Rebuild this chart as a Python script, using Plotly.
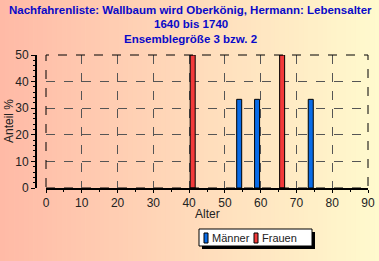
import plotly.graph_objects as go

# Data
alter_maenner = [54, 59, 74]
anteil_maenner = [33.33, 33.33, 33.33]
alter_frauen = [41, 66]
anteil_frauen = [50, 50]
x_ticks = [0, 10, 20, 30, 40, 50, 60, 70, 80, 90]
y_ticks = [0, 10, 20, 30, 40, 50]
title_lines = ["Nachfahrenliste: Wallbaum wird Oberkönig, Hermann: Lebensalter",
               "1640 bis 1740", "Ensemblegröße 3 bzw. 2"]
x_title = "Alter"
y_title = "Anteil %"
series_names = ["Männer", "Frauen"]
series_colors = ["#0A6CE8", "#F23A3A"]

W, H = 379, 261
L, R, T, B = 36, 11, 55, 73
PW, PH = W - L - R, H - T - B

def px2x(X):
    return (X - L) / PW

def px2y(Y):
    return (H - B - Y) / PH

fig = go.Figure()
fig.add_trace(go.Bar(x=alter_maenner, y=anteil_maenner, name=series_names[0], width=1.4,
                     marker=dict(color=series_colors[0], line=dict(color="black", width=1))))
fig.add_trace(go.Bar(x=alter_frauen, y=anteil_frauen, name=series_names[1], width=1.4,
                     marker=dict(color=series_colors[1], line=dict(color="black", width=1))))

shapes = []
# gradient background
c0 = (255, 186, 166)
c1 = (255, 250, 206)
n = 80
for i in range(n):
    t = i / (n - 1)
    col = tuple(int(round(c0[k] + (c1[k] - c0[k]) * t)) for k in range(3))
    x0 = W * i / n
    x1 = W * (i + 1) / n + 0.6
    shapes.append(dict(type="rect", xref="paper", yref="paper", layer="below",
                       x0=px2x(x0), x1=px2x(x1), y0=px2y(H), y1=px2y(0),
                       fillcolor="rgb(%d,%d,%d)" % col, line=dict(width=0)))
# dashed frame
shapes.append(dict(type="rect", xref="x domain", yref="y domain", x0=0, x1=1, y0=0, y1=1,
                   line=dict(color="black", width=1, dash="dash"), layer="above"))
# legend: shadow, box, icons
shapes.append(dict(type="rect", xref="paper", yref="paper",
                   x0=px2x(202), x1=px2x(315), y0=px2y(249), y1=px2y(232),
                   fillcolor="black", line=dict(width=0), layer="above"))
shapes.append(dict(type="rect", xref="paper", yref="paper",
                   x0=px2x(199), x1=px2x(312), y0=px2y(246), y1=px2y(229),
                   fillcolor="white", line=dict(color="black", width=1), layer="above"))
annotations = []
legend_icon_x = [204, 254]
legend_text_x = [210, 260]
for i in range(2):
    shapes.append(dict(type="rect", xref="paper", yref="paper",
                       x0=px2x(legend_icon_x[i]), x1=px2x(legend_icon_x[i] + 4),
                       y0=px2y(243), y1=px2y(233),
                       fillcolor=series_colors[i], line=dict(color="black", width=1), layer="above"))
    annotations.append(dict(text=series_names[i], xref="paper", yref="paper",
                            x=px2x(legend_text_x[i]), y=px2y(238), xanchor="left", yanchor="middle",
                            showarrow=False, font=dict(size=11, color="#222222")))

title_y = [10, 24, 39]
for i, line in enumerate(title_lines):
    annotations.append(dict(text="<b>%s</b>" % line, xref="paper", yref="paper",
                            x=px2x(W / 2 + 1), y=px2y(title_y[i]), xanchor="center", yanchor="middle",
                            showarrow=False,
                            font=dict(family="Liberation Sans, Arial, sans-serif", size=11.5, color="#0A0AC8")))
# axis titles
annotations.append(dict(text=x_title, xref="paper", yref="paper", x=px2x(207), y=px2y(214),
                        xanchor="center", yanchor="middle", showarrow=False,
                        font=dict(size=12, color="#222222")))
annotations.append(dict(text=y_title, xref="paper", yref="paper", x=px2x(9), y=px2y(121),
                        xanchor="center", yanchor="middle", showarrow=False, textangle=-90,
                        font=dict(size=12, color="#222222")))

fig.update_layout(
    width=W, height=H,
    margin=dict(l=L, r=R, t=T, b=B, autoexpand=False),
    paper_bgcolor="rgb(255,220,190)",
    plot_bgcolor="rgba(0,0,0,0)",
    barmode="overlay",
    showlegend=False,
    font=dict(family="Liberation Sans, Arial, sans-serif", size=12, color="black"),
    xaxis=dict(
        domain=[px2x(46), 1], automargin=False,
        range=[0, 90], tickvals=x_ticks, ticks="outside", ticklen=3, tickcolor="black",
        showline=True, linecolor="black", linewidth=2,
        showgrid=True, gridcolor="#555555", griddash="dash", gridwidth=1,
        zeroline=False,
        tickfont=dict(size=12, color="#222222"),
        minor=dict(ticks="outside", ticklen=2, tickcolor="black", dtick=5, showgrid=False),
    ),
    yaxis=dict(
        automargin=False,
        range=[0, 50], tickvals=y_ticks, ticks="outside", ticklen=4, tickcolor="black",
        showline=True, linecolor="black", linewidth=2,
        anchor="free", position=0,
        showgrid=True, gridcolor="#555555", griddash="dash", gridwidth=1,
        zeroline=False,
        tickfont=dict(size=12, color="#222222"),
        minor=dict(ticks="outside", ticklen=2, tickcolor="black", dtick=2),
    ),
    shapes=shapes,
    annotations=annotations,
)

fig.write_html("out.html")
